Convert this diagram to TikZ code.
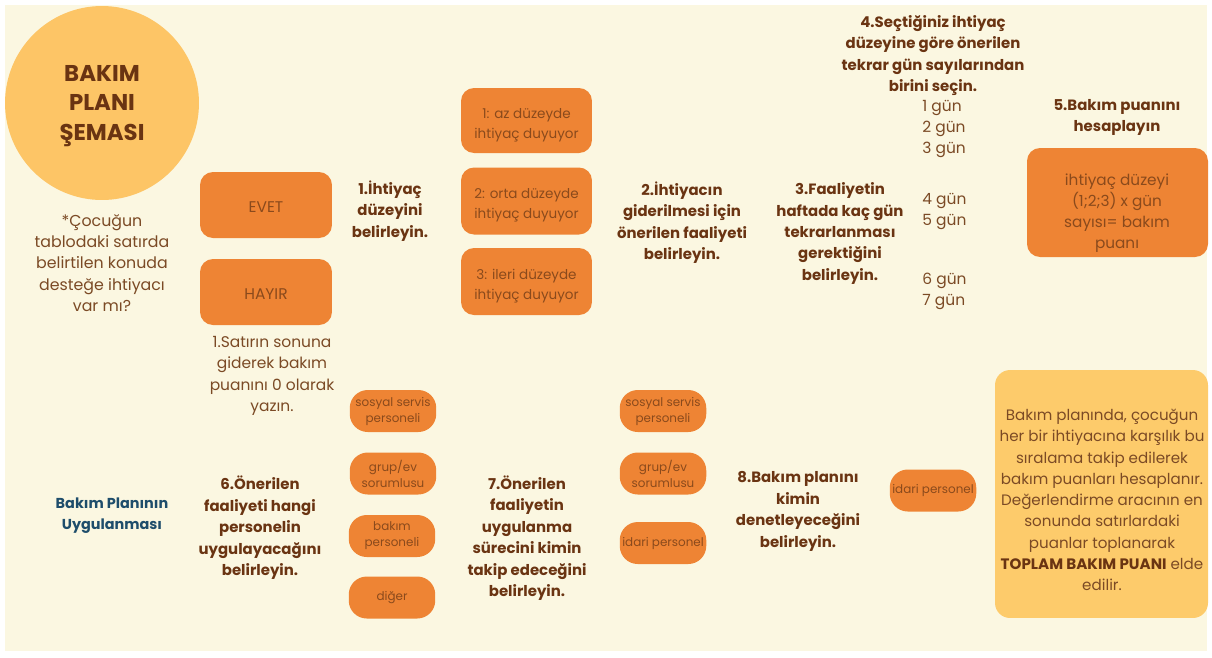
\documentclass[tikz,border=0pt]{standalone}
\usepackage{fontspec}
\setmainfont{Poppins}
\definecolor{bgc}{HTML}{FBF7E1}
\definecolor{circc}{HTML}{FDC566}
\definecolor{orc}{HTML}{EE8434}
\definecolor{headc}{HTML}{6A3412}
\definecolor{bodyc}{HTML}{7B4A25}
\definecolor{boxtc}{HTML}{8A4A1C}
\definecolor{bluec}{HTML}{1E4D6B}
\definecolor{finc}{HTML}{FDCB6B}
\begin{document}
\begin{tikzpicture}[x=0.02cm,y=-0.02cm,
  head/.style={text=headc,align=center,font=\bfseries\fontsize{8.5}{12.2}\selectfont},
  body/.style={text=bodyc,align=center,font=\fontsize{8.8}{12.2}\selectfont},
  obox/.style={fill=orc,rounded corners=0.26cm,inner sep=0pt},
  btext/.style={text=boxtc,align=center,inner sep=0pt,font=\fontsize{7.7}{11.3}\selectfont},
  pill/.style={fill=orc,rounded corners=0.36cm,text=boxtc,align=center,inner sep=0pt,minimum width=1.73cm,minimum height=0.84cm,font=\fontsize{6.8}{9.1}\selectfont},
  day/.style={text=bodyc,anchor=west,inner sep=0pt,font=\fontsize{8.8}{12.2}\selectfont}]
\useasboundingbox (0,0) rectangle (1212,657);
\fill[white] (0,0) rectangle (1212,657);
\fill[bgc] (5,5) rectangle (1207,651);
% title circle
\node[circle,fill=circc,minimum size=3.88cm,inner sep=0pt] (circ) at (102,103) {};
\node[text=headc,align=center,font=\bfseries\fontsize{13}{17}\selectfont] (title) at (102,106) {BAKIM\\PLANI\\ŞEMASI};
\node[body,font=\fontsize{9}{12.2}\selectfont] (quest) at (102,263) {*Çocuğun\\tablodaki satırda\\belirtilen konuda\\desteğe ihtiyacı\\var mı?};
% yes/no
\node[obox,minimum width=2.64cm,minimum height=1.32cm] (evet) at (266,205) {};
\node[btext,font=\fontsize{8.8}{11}\selectfont] (evett) at (266,207.5) {EVET};
\node[obox,minimum width=2.64cm,minimum height=1.32cm] (hayir) at (266,292) {};
\node[btext,font=\fontsize{8.8}{11}\selectfont] (hayirt) at (266,294) {HAYIR};
\node[head] (h1) at (390,211) {1.İhtiyaç\\düzeyini\\belirleyin.};
\node[body] (satir) at (272,376) {1.Satırın sonuna\\giderek bakım\\puanını 0 olarak\\yazın.};
% levels
\node[obox,minimum width=2.62cm,minimum height=1.30cm] (lv1) at (526.5,120.5) {};
\node[btext] (lv1t) at (526.5,125) {1: az düzeyde\\ihtiyaç duyuyor};
\node[obox,minimum width=2.62cm,minimum height=1.34cm] (lv2) at (526.5,201) {};
\node[btext] (lv2t) at (526.5,205.5) {2: orta düzeyde\\ihtiyaç duyuyor};
\node[obox,minimum width=2.62cm,minimum height=1.34cm] (lv3) at (526.5,281.5) {};
\node[btext] (lv3t) at (526.5,286) {3: ileri düzeyde\\ihtiyaç duyuyor};
\node[head] (h2) at (682,222.5) {2.İhtiyacın\\giderilmesi için\\önerilen faaliyeti\\belirleyin.};
\node[head] (h3) at (840,233.5) {3.Faaliyetin\\haftada kaç gün\\tekrarlanması\\gerektiğini\\belirleyin.};
\node[head] (h4) at (933,55.5) {4.Seçtiğiniz ihtiyaç\\düzeyine göre önerilen\\tekrar gün sayılarından\\birini seçin.};
\node[day] (d1) at (922,108) {1 gün};
\node[day] (d2) at (922,129) {2 gün};
\node[day] (d3) at (922,150) {3 gün};
\node[day] (d4) at (922,201) {4 gün};
\node[day] (d5) at (922,222) {5 gün};
\node[day] (d6) at (922,281) {6 gün};
\node[day] (d7) at (922,302) {7 gün};
\node[head] (h5) at (1117,117.5) {5.Bakım puanını\\hesaplayın};
\node[obox,minimum width=3.62cm,minimum height=2.18cm] (score) at (1117.5,202.5) {};
\node[btext,font=\fontsize{8.7}{12}\selectfont] (scoret) at (1117,213) {ihtiyaç düzeyi\\(1;2;3) x gün\\sayısı= bakım\\puanı};
% lower part
\node[text=bluec,align=center,font=\bfseries\fontsize{8.2}{12}\selectfont] (impl) at (112,515.5) {Bakım Planının\\Uygulanması};
\node[head] (h6) at (260,528) {6.Önerilen\\faaliyeti hangi\\personelin\\uygulayacağını\\belirleyin.};
\node[pill] (p1a) at (393,411) {sosyal servis\\personeli};
\node[pill] (p1b) at (393,473.5) {grup/ev\\sorumlusu};
\node[pill] (p1c) at (392,536) {bakım\\personeli};
\node[pill] (p1d) at (392,597.5) {\raisebox{-1.2pt}{diğer}};
\node[head] (h7) at (527,538) {7.Önerilen\\faaliyetin\\uygulanma\\sürecini kimin\\takip edeceğini\\belirleyin.};
\node[pill] (p2a) at (663,411) {sosyal servis\\personeli};
\node[pill] (p2b) at (663,473.5) {grup/ev\\sorumlusu};
\node[pill] (p2c) at (663,543) {\raisebox{-1.2pt}{idari personel}};
\node[head] (h8) at (798,511.5) {8.Bakım planını\\kimin\\denetleyeceğini\\belirleyin.};
\node[pill] (p3) at (933,490.5) {\raisebox{-1.5pt}{idari personel}};
\node[fill=finc,rounded corners=0.3cm,minimum width=4.26cm,minimum height=4.96cm,inner sep=0pt] (fin) at (1101.5,494) {};
\node[text=bodyc,align=center,font=\fontsize{8.6}{12.1}\selectfont] (fintext) at (1102,500) {Bakım planında, çocuğun\\her bir ihtiyacına karşılık bu\\sıralama takip edilerek\\bakım puanları hesaplanır.\\Değerlendirme aracının en\\sonunda satırlardaki\\puanlar toplanarak\\\textbf{\textcolor{headc}{TOPLAM BAKIM PUANI}} elde\\edilir.};
\end{tikzpicture}
\end{document}
